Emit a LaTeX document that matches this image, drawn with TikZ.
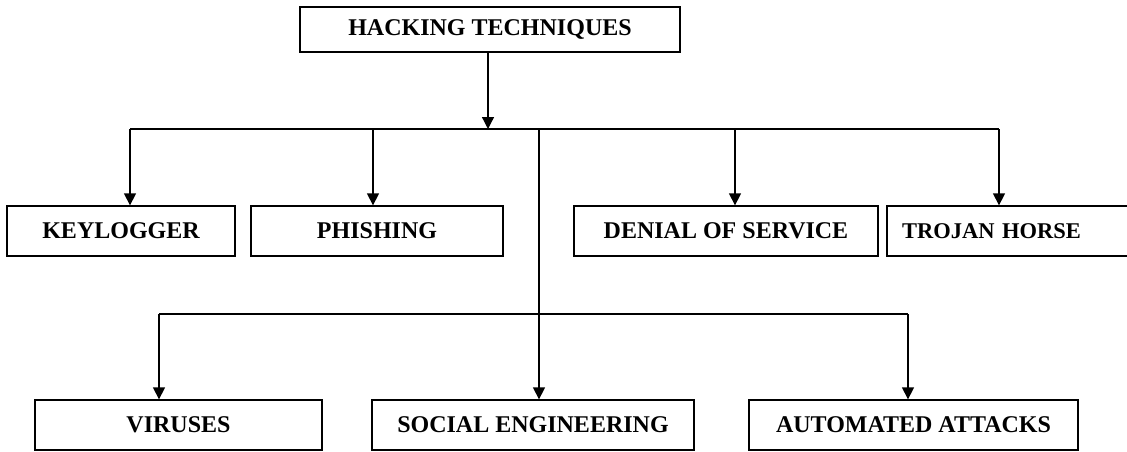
\documentclass[tikz,border=0pt]{standalone}
\usepackage{fontspec}
\setmainfont{Liberation Serif}
\usetikzlibrary{arrows.meta}
\begin{document}
\begin{tikzpicture}[x=1pt,y=-1pt,
  box/.style={draw,line width=1.3pt,rectangle,inner sep=0pt,minimum height=50pt,
    font=\fontsize{24}{28}\selectfont\bfseries},
  arr/.style={line width=1.3pt,-{Triangle[length=12pt,width=12pt]}},
  ln/.style={line width=1.3pt}]
\useasboundingbox (0,0) rectangle (1127,452);
\fill[white] (0,0) rectangle (1127,452);
% nodes
\node[box,minimum width=380pt,minimum height=45pt] (top) at (490,29.5) {HACKING TECHNIQUES};
\node[box,minimum width=228pt] (kl) at (121,231) {KEYLOGGER};
\node[box,minimum width=252pt] (ph) at (377,231) {PHISHING};
\node[box,minimum width=304pt] (dos) at (726,231) {DENIAL OF SERVICE};
\node[box,font=\fontsize{22.5}{26}\selectfont\bfseries,text width=265pt,align=left,inner xsep=15pt,minimum height=50pt] (tro) at (1034.5,231) {TROJAN HORSE};
\node[box,minimum width=287pt] (vir) at (178.5,425) {VIRUSES};
\node[box,minimum width=322pt] (soc) at (533,425) {SOCIAL ENGINEERING};
\node[box,minimum width=329pt] (aut) at (913.5,425) {AUTOMATED ATTACKS};
% junction coordinates
\coordinate (j0) at (488,129);
\coordinate (hL) at (130,129);
\coordinate (hR) at (999,129);
\coordinate (hP) at (373,129);
\coordinate (hD) at (735,129);
\coordinate (vS) at (539,129);
\coordinate (gL) at (159,314);
\coordinate (gR) at (908,314);
% connectors
\draw[arr] (top.south -| j0) -- (j0);
\draw[ln] (hL) -- (hR);
\draw[arr] (hL) -- (hL |- kl.north);
\draw[arr] (hP) -- (hP |- ph.north);
\draw[arr] (hD) -- (hD |- dos.north);
\draw[arr] (hR) -- (hR |- tro.north);
\draw[arr] (vS) -- (vS |- soc.north);
\draw[ln] (gL) -- (gR);
\draw[arr] (gL) -- (gL |- vir.north);
\draw[arr] (gR) -- (gR |- aut.north);
\end{tikzpicture}
\end{document}
